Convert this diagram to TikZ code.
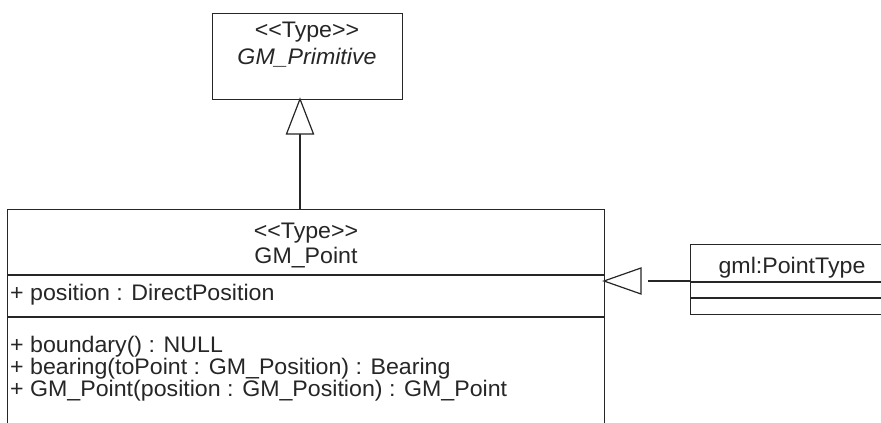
\documentclass[tikz,border=0pt]{standalone}
\usepackage{fontspec}
\setmainfont{Liberation Sans}[FakeStretch=1.03]
\newcommand{\stereo}[1]{<\kern0pt<#1>\kern0pt>}
\begin{document}
\begin{tikzpicture}[x=1pt,y=-1pt,
  ln/.style={draw=black!85, line width=1.2pt},
  umlbox/.style={ln, fill=white, rectangle, inner sep=0pt, anchor=north west},
  txt/.style={inner sep=0pt, text=black!85, font=\fontsize{22.5}{20}\selectfont},
  ctxt/.style={txt, anchor=base},
  ltxt/.style={txt, anchor=base west},
  gentri/.style={ln, fill=white, line join=miter}]
\useasboundingbox (0,0) rectangle (881,423);
\clip (0,0) rectangle (881,423);
% boxes
\node[umlbox, minimum width=190pt, minimum height=86pt] (prim) at (212,13) {};
\node[umlbox, minimum width=597pt, minimum height=240pt] (pt) at (7,209) {};
\node[umlbox, minimum width=204pt, minimum height=70pt] (gml) at (690,244) {};
% separators
\draw[ln] (7,275) -- (604,275);
\draw[ln] (7,317) -- (604,317);
\draw[ln] (690,282) -- (894,282);
\draw[ln] (690,298) -- (894,298);
% texts
\node[ctxt] (primst) at (307,37) {\stereo{Type}};
\node[ctxt] (primnm) at (307,64) {\itshape GM\_Primitive};
\node[ctxt] (ptst) at (306,238) {\stereo{Type}};
\node[ctxt] (ptnm) at (306,263) {GM\_Point};
\node[ltxt] (attr) at (10,300) {+ position : DirectPosition};
\node[ltxt, align=left] (ops) at (10,396.5) {+ boundary() : NULL\\+ bearing(toPoint : GM\_Position) : Bearing\\+ GM\_Point(position : GM\_Position) : GM\_Point};
\node[ctxt] (gmlnm) at (792,273) {gml:PointType};
% generalization: GM_Point -> GM_Primitive
\coordinate (t1tip) at (300,99);
\coordinate (t1base) at (300,134);
\draw[ln] (t1base) -- (300,209);
\draw[gentri] (t1tip) -- (313.5,134) -- (286.5,134) -- cycle;
% realization: gml:PointType -> GM_Point
\coordinate (t2tip) at (604,281);
\coordinate (t2end) at (648,281);
\draw[ln] (gml.west |- t2tip) -- (t2end);
\draw[gentri] (t2tip) -- (641,268) -- (641,294) -- cycle;
\end{tikzpicture}
\end{document}
